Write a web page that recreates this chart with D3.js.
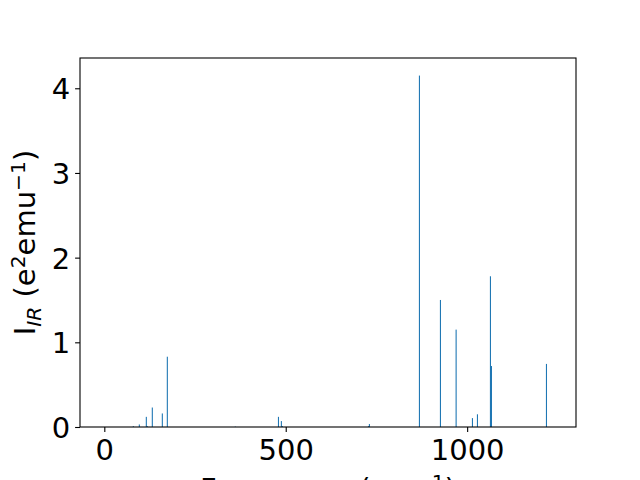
<!DOCTYPE html>
<html>
<head>
<meta charset="utf-8">
<script src="https://cdn.jsdelivr.net/npm/d3@7"></script>
<style>
  body { margin: 0; background: #fff; }
  svg { display: block; }
  text { font-family: "DejaVu Sans", sans-serif; fill: #000; }
</style>
</head>
<body>
<svg id="chart" width="640" height="480"></svg>
<script>
// Data: vibrational frequencies (cm^-1) and IR intensities
const frequencies = [80, 96.5, 115.8, 118.6, 132.3, 159.9, 173.7, 361, 480, 488, 491, 728, 730.6, 868.5, 926.4, 969.6, 1014.6, 1028.4, 1064.2, 1067, 1218.6];
const intensities = [0.01, 0.03, 0.12, 0.01, 0.23, 0.16, 0.83, 0.005, 0.12, 0.07, 0.01, 0.01, 0.035, 4.15, 1.50, 1.15, 0.105, 0.15, 1.78, 0.72, 0.745];
const xTicks = [0, 500, 1000];
const yTicks = [0, 1, 2, 3, 4];
const xDomain = [-67, 1300];
const barWidth = 3;

const svg = d3.select("#chart");
const m = { left: 80, right: 576, top: 58, bottom: 427 };
const yMax = d3.max(intensities) * 1.05;

const x = d3.scaleLinear().domain(xDomain).range([m.left, m.right]);
const y = d3.scaleLinear().domain([0, yMax]).range([m.bottom, m.top]);

const data = frequencies.map((f, i) => ({ f, v: intensities[i] }));

svg.append("g").selectAll("rect").data(data).enter().append("rect")
  .attr("x", d => x(d.f - barWidth / 2))
  .attr("width", d => x(d.f + barWidth / 2) - x(d.f - barWidth / 2))
  .attr("y", d => y(d.v))
  .attr("height", d => y(0) - y(d.v))
  .attr("fill", "#1f77b4");

const fs = 29;
const xAxis = d3.axisBottom(x).tickValues(xTicks).tickSize(4.9).tickPadding(4.9).tickFormat(d3.format("d"));
const yAxis = d3.axisLeft(y).tickValues(yTicks).tickSize(4.9).tickPadding(4.9).tickFormat(d3.format("d"));

const gx = svg.append("g").attr("transform", `translate(0,${m.bottom})`).call(xAxis);
const gy = svg.append("g").attr("transform", `translate(${m.left},0)`).call(yAxis);
[gx, gy].forEach(g => {
  g.select(".domain").remove();
  g.selectAll("line").attr("stroke", "#000").attr("stroke-width", 1.1);
  g.selectAll("text").attr("font-size", fs).attr("font-family", "DejaVu Sans").attr("fill", "#000");
});
gx.selectAll("text").attr("dy", null).attr("y", 32.5);
gy.selectAll("text").attr("dy", "0.36em");

// frame
svg.append("rect")
  .attr("x", m.left).attr("y", m.top)
  .attr("width", m.right - m.left).attr("height", m.bottom - m.top)
  .attr("fill", "none").attr("stroke", "#000").attr("stroke-width", 1.1);

// y label
const yl = svg.append("text")
  .attr("transform", `translate(35,${(m.top + m.bottom) / 2}) rotate(-90)`)
  .attr("text-anchor", "middle")
  .attr("font-size", fs);
yl.append("tspan").text("I");
yl.append("tspan").attr("font-size", fs * 0.7).attr("font-style", "italic").attr("dy", fs * 0.22).text("IR");
yl.append("tspan").attr("dy", -fs * 0.22).text(" (e");
yl.append("tspan").attr("font-size", fs * 0.7).attr("dy", -fs * 0.36).text("2");
yl.append("tspan").attr("dy", fs * 0.36).text("emu");
yl.append("tspan").attr("font-size", fs * 0.7).attr("dy", -fs * 0.36).text("\u22121");
yl.append("tspan").attr("dy", fs * 0.36).text(")");

// x label
const xl = svg.append("text")
  .attr("x", (m.left + m.right) / 2).attr("y", 499)
  .attr("text-anchor", "middle")
  .attr("font-size", fs);
xl.append("tspan").text("Frequency (cm");
xl.append("tspan").attr("font-size", fs * 0.7).attr("dy", -fs * 0.36).text("\u22121");
xl.append("tspan").attr("dy", fs * 0.36).text(")");
</script>
</body>
</html>
